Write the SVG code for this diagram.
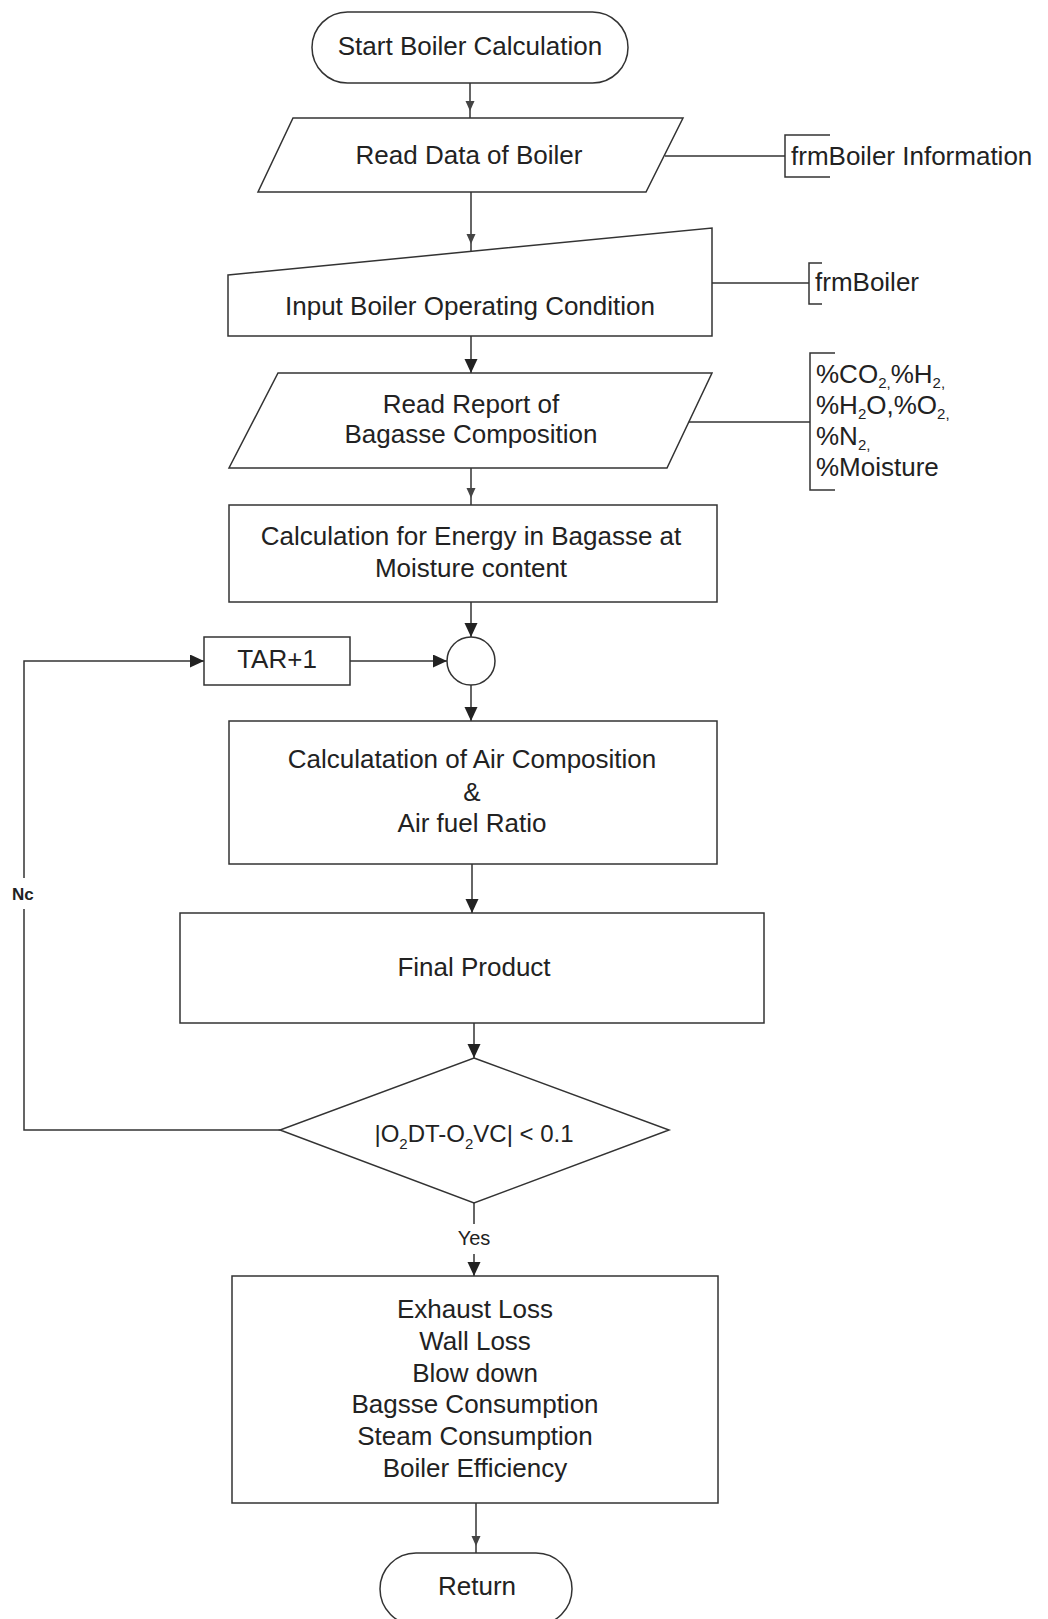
<svg xmlns="http://www.w3.org/2000/svg" width="1048" height="1619" viewBox="0 0 1048 1619">
<style>
.shape{fill:#fff;stroke:#333;stroke-width:1.5}
.line{fill:none;stroke:#333;stroke-width:1.5}
.arr{marker-end:url(#arrow)}
.arrs{marker-end:url(#arrowSmall)}
text{font-family:"Liberation Sans",Arial,sans-serif;font-size:26px;fill:#222}
.c{text-anchor:middle}
.sub{font-size:15px}
.small{font-size:20px}
.nc{font-size:17px;font-weight:bold}
</style>
<defs>
<marker id="arrow" markerUnits="userSpaceOnUse" markerWidth="15" markerHeight="14" refX="14" refY="6.5" orient="auto">
<path d="M0,0 L14,6.5 L0,13 z" fill="#222"/>
</marker>
<marker id="arrowSmall" markerUnits="userSpaceOnUse" markerWidth="20" markerHeight="10" refX="17" refY="4.5" orient="auto">
<path d="M0,0 L10,4.5 L0,9 z" fill="#444"/>
</marker>
</defs>
<rect width="1048" height="1619" fill="#fff"/>

<g id="connectors">
<line class="line arrs" x1="470" y1="83" x2="470" y2="118"/>
<line class="line arrs" x1="471" y1="192" x2="471" y2="251"/>
<line class="line arr" x1="471" y1="336" x2="471" y2="373"/>
<line class="line arrs" x1="471" y1="468" x2="471" y2="505"/>
<line class="line arr" x1="471" y1="602" x2="471" y2="637"/>
<line class="line arr" x1="471" y1="685" x2="471" y2="721"/>
<line class="line arr" x1="350" y1="661" x2="447" y2="661"/>
<line class="line arr" x1="472" y1="864" x2="472" y2="913"/>
<line class="line arr" x1="474" y1="1023" x2="474" y2="1058"/>
<line class="line" x1="474" y1="1203" x2="474" y2="1224"/>
<line class="line arr" x1="474" y1="1254" x2="474" y2="1276"/>
<polyline class="line" points="280,1130 24,1130 24,909"/>
<polyline class="line arr" points="24,878 24,661 204,661"/>
<line class="line arrs" x1="476" y1="1503" x2="476" y2="1553"/>
<line class="line" x1="665" y1="156" x2="785" y2="156"/>
<line class="line" x1="712" y1="283" x2="809" y2="283"/>
<line class="line" x1="688" y1="422" x2="810" y2="422"/>
<text class="nc" x="12" y="900">Nc</text>
<text class="c small" x="474" y="1245">Yes</text>
</g>

<g id="start">
<rect class="shape" x="312" y="12" width="316" height="71" rx="35.5" ry="35.5"/>
<text class="c" x="470" y="55">Start Boiler Calculation</text>
</g>

<g id="readData">
<polygon class="shape" points="293,118 683,118 646,192 258,192"/>
<text class="c" x="469" y="164">Read Data of Boiler</text>
</g>

<g id="frmBoilerInfo">
<polyline class="line" points="830,135 785,135 785,177 830,177"/>
<text x="791" y="165">frmBoiler Information</text>
</g>

<g id="inputCondition">
<polygon class="shape" points="228,275 712,228 712,336 228,336"/>
<text class="c" x="470" y="315">Input Boiler Operating Condition</text>
</g>

<g id="frmBoiler">
<polyline class="line" points="822,263 809,263 809,304 822,304"/>
<text x="815" y="291">frmBoiler</text>
</g>

<g id="readReport">
<polygon class="shape" points="278,373 712,373 667,468 229,468"/>
<text class="c" x="471" y="413">Read Report of</text>
<text class="c" x="471" y="443">Bagasse Composition</text>
</g>

<g id="composition">
<polyline class="line" points="835,353 810,353 810,490 835,490"/>
<text x="816" y="383">%CO<tspan class="sub" dy="5">2,</tspan><tspan dy="-5">%H</tspan><tspan class="sub" dy="5">2,</tspan></text>
<text x="816" y="414">%H<tspan class="sub" dy="5">2</tspan><tspan dy="-5">O,%O</tspan><tspan class="sub" dy="5">2,</tspan></text>
<text x="816" y="445">%N<tspan class="sub" dy="5">2,</tspan></text>
<text x="816" y="476">%Moisture</text>
</g>

<g id="energyCalc">
<rect class="shape" x="229" y="505" width="488" height="97"/>
<text class="c" x="471" y="545">Calculation for Energy in Bagasse at</text>
<text class="c" x="471" y="577">Moisture content</text>
</g>

<g id="tar">
<rect class="shape" x="204" y="637" width="146" height="48"/>
<text class="c" x="277" y="668">TAR+1</text>
</g>

<g id="junction">
<circle class="shape" cx="471" cy="661" r="24"/>
</g>

<g id="airCalc">
<rect class="shape" x="229" y="721" width="488" height="143"/>
<text class="c" x="472" y="768">Calculatation of Air Composition</text>
<text class="c" x="472" y="801">&amp;</text>
<text class="c" x="472" y="832">Air fuel Ratio</text>
</g>

<g id="finalProduct">
<rect class="shape" x="180" y="913" width="584" height="110"/>
<text class="c" x="474" y="976">Final Product</text>
</g>

<g id="decision">
<polygon class="shape" points="474,1058 669,1130 474,1203 280,1130"/>
<text class="c" x="474" y="1142" style="font-size:24px">|O<tspan class="sub" dy="7">2</tspan><tspan dy="-7">DT-O</tspan><tspan class="sub" dy="7">2</tspan><tspan dy="-7">VC| &lt; 0.1</tspan></text>
</g>

<g id="results">
<rect class="shape" x="232" y="1276" width="486" height="227"/>
<text class="c" x="475" y="1318">Exhaust Loss</text>
<text class="c" x="475" y="1350">Wall Loss</text>
<text class="c" x="475" y="1382">Blow down</text>
<text class="c" x="475" y="1413">Bagsse Consumption</text>
<text class="c" x="475" y="1445">Steam Consumption</text>
<text class="c" x="475" y="1477">Boiler Efficiency</text>
</g>

<g id="return">
<rect class="shape" x="380" y="1553" width="192" height="72" rx="36" ry="36"/>
<text class="c" x="477" y="1595">Return</text>
</g>
</svg>
